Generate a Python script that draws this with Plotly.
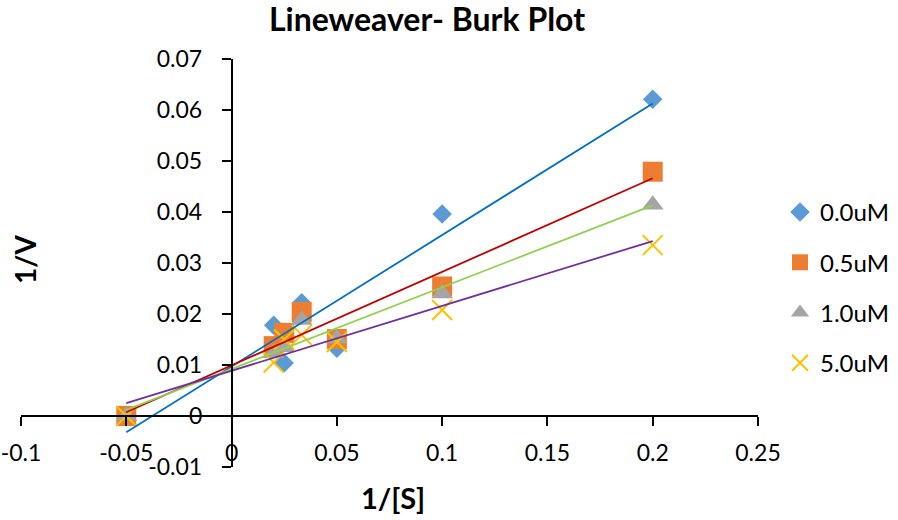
import numpy as np
import plotly.graph_objects as go

# Data
inv_s = [-0.05, 0.02, 0.025, 0.0333, 0.05, 0.1, 0.2]
series_names = ["0.0uM", "0.5uM", "1.0uM", "5.0uM"]
inv_v_0_0 = [0.0, 0.0178, 0.0104, 0.0222, 0.0133, 0.0396, 0.0621]
inv_v_0_5 = [0.0, 0.0137, 0.0163, 0.0204, 0.0151, 0.0254, 0.0479]
inv_v_1_0 = [0.0, 0.0123, 0.0135, 0.0188, 0.0152, 0.0240, 0.0414]
inv_v_5_0 = [0.0, 0.0105, 0.0150, 0.0159, 0.0145, 0.0208, 0.0335]

x_ticks = [-0.1, -0.05, 0, 0.05, 0.1, 0.15, 0.2, 0.25]
x_tick_labels = ["-0.1", "-0.05", "0", "0.05", "0.1", "0.15", "0.2", "0.25"]
y_ticks = [-0.01, 0, 0.01, 0.02, 0.03, 0.04, 0.05, 0.06, 0.07]
y_tick_labels = ["-0.01", "0", "0.01", "0.02", "0.03", "0.04", "0.05", "0.06", "0.07"]

all_series = [inv_v_0_0, inv_v_0_5, inv_v_1_0, inv_v_5_0]
marker_colors = ["#5B9BD5", "#ED7D31", "#A5A5A5", "#FFC000"]
marker_symbols = ["diamond", "square", "triangle-up", "x-thin"]
marker_sizes = [15, 20, 19, 20]
trend_colors = ["#0070C0", "#C00000", "#92D050", "#7030A0"]

FONT = "Lato"
X_RANGE = [-0.1, 0.25]
Y_RANGE = [-0.01, 0.07]
ML, MR, MT, MB = 21, 140, 59, 53
W, H = 898, 520

fig = go.Figure()

for name, ys, col, sym, sz in zip(series_names, all_series, marker_colors, marker_symbols, marker_sizes):
    if sym == "x-thin":
        marker = dict(symbol=sym, size=sz, color=col, line=dict(color=col, width=2))
    else:
        marker = dict(symbol=sym, size=sz, color=col, line=dict(width=0))
    fig.add_trace(go.Scatter(
        x=inv_s, y=ys, mode="markers", name=name, marker=marker,
        legendgroup=name, showlegend=True,
    ))

# Linear trendlines (least-squares fits over each series)
xs = np.array(inv_s)
for name, ys, col in zip(series_names, all_series, trend_colors):
    slope, intercept = np.polyfit(xs, np.array(ys), 1)
    xe = [xs.min(), xs.max()]
    ye = [slope * v + intercept for v in xe]
    fig.add_trace(go.Scatter(
        x=xe, y=ye, mode="lines", line=dict(color=col, width=1.8),
        showlegend=False, hoverinfo="skip",
    ))

x_pos = (0 - Y_RANGE[0]) / (Y_RANGE[1] - Y_RANGE[0])
y_pos = (0 - X_RANGE[0]) / (X_RANGE[1] - X_RANGE[0])
pw, ph = W - ML - MR, H - MT - MB

axis_common = dict(showgrid=False, zeroline=False, showline=True, linecolor="black",
                   linewidth=1.5, ticks="outside", ticklen=9, tickwidth=1.5,
                   tickcolor="black", tickfont=dict(size=23),
                   automargin=False, ticklabeloverflow="allow")

fig.update_layout(
    width=W, height=H,
    margin=dict(l=ML, r=MR, t=MT, b=MB, autoexpand=False),
    paper_bgcolor="white", plot_bgcolor="white",
    font=dict(family=FONT, size=24, color="black"),
    title=dict(text="<b>Lineweaver- Burk Plot</b>", x=427 / W, xref="container",
               xanchor="center", y=1 - 20 / H, yref="container", yanchor="middle",
               font=dict(family=FONT, size=32, color="black")),
    xaxis=dict(range=X_RANGE, tickvals=x_ticks, ticktext=x_tick_labels,
               anchor="free", position=x_pos, ticklabelstandoff=8, **axis_common),
    yaxis=dict(range=Y_RANGE, tickvals=y_ticks, ticktext=y_tick_labels,
               anchor="free", position=y_pos, ticklabelstandoff=15, **axis_common),
    legend=dict(x=780 / W, xref="container", xanchor="left",
                y=1 - 190 / H, yref="container", yanchor="top",
                font=dict(size=24), tracegroupgap=16, bgcolor="rgba(0,0,0,0)"),
)

fig.add_annotation(text="<b>1/[S]</b>", x=(393 - ML) / pw, y=(H - MB - 497) / ph,
                   xref="paper", yref="paper", showarrow=False, font=dict(size=29),
                   xanchor="center", yanchor="middle")
fig.add_annotation(text="<b>1/V</b>", textangle=-90, x=(25 - ML) / pw, y=(H - MB - 260) / ph,
                   xref="paper", yref="paper", showarrow=False, font=dict(size=28),
                   xanchor="center", yanchor="middle")

fig.write_html("out.html", config={"displayModeBar": False},
               post_script="document.body.style.margin='0px';")
